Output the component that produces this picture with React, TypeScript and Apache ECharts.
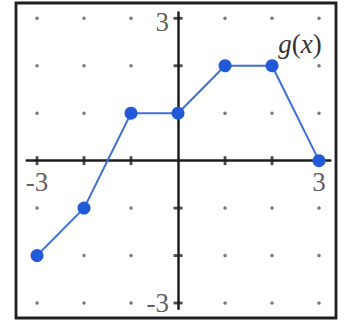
import React, { useEffect, useRef } from "react";
import * as echarts from "echarts";

// g(x): piecewise-linear function through these points
const gxX = [-3, -2, -1, 0, 1, 2, 3];
const gxY = [-2, -1, 1, 1, 2, 2, 0];

// integer lattice shown as dots / axis ticks
const gridX = [-3, -2, -1, 0, 1, 2, 3];
const gridY = [-3, -2, -1, 0, 1, 2, 3];

// axis end labels
const xLabels = [-3, 3];
const yLabels = [3, -3];

const SERIF = "Liberation Serif";
const BLUE_LINE = "#3d6fd6";
const BLUE_DOT = "#2259d6";
const INK = "#1e1e1e";

export default function App() {
  const ref = useRef<HTMLDivElement>(null);

  useEffect(() => {
    if (!ref.current) return;
    const chart = echarts.init(ref.current, undefined, { renderer: "svg" });

    const dots: number[][] = [];
    gridX.forEach((x) =>
      gridY.forEach((y) => {
        if (x !== 0 && y !== 0) dots.push([x, y]);
      })
    );
    const xTicks = gridX.filter((x) => x !== 0).map((x) => [x, 0]);
    const yTicks = gridY.filter((y) => y !== 0).map((y) => [0, y]);

    chart.setOption({
      animation: false,
      grid: { left: 26.7, right: 15.7, top: 12.6, bottom: 13.3 },
      xAxis: {
        type: "value",
        min: -3.22,
        max: 3.24,
        axisLine: { show: true, onZero: true, lineStyle: { color: INK, width: 2.5 } },
        axisTick: { show: false },
        axisLabel: { show: false },
        splitLine: { show: false },
      },
      yAxis: {
        type: "value",
        min: -3.12,
        max: 3.12,
        axisLine: { show: true, onZero: true, lineStyle: { color: INK, width: 2.5 } },
        axisTick: { show: false },
        axisLabel: { show: false },
        splitLine: { show: false },
      },
      graphic: [
        {
          type: "rect",
          shape: { x: 16, y: 3, width: 320, height: 315 },
          style: { fill: "none", stroke: INK, lineWidth: 2.8 },
          z: 10,
        },
        {
          type: "text",
          x: 300,
          y: 44,
          style: {
            text: "{i|g}{n|(}{i|x}{n|)}",
            align: "center",
            verticalAlign: "middle",
            fontFamily: SERIF,
            fontSize: 27,
            fill: "#333",
            rich: {
              i: { fontStyle: "italic", fontFamily: SERIF, fontSize: 27, fill: "#333" },
              n: { fontStyle: "normal", fontFamily: SERIF, fontSize: 27, fill: "#333" },
            },
          },
          z: 10,
        },
      ],
      series: [
        {
          type: "scatter",
          data: dots,
          symbol: "circle",
          symbolSize: 3.5,
          itemStyle: { color: "#5a5a5a" },
          silent: true,
        },
        {
          type: "scatter",
          data: xTicks,
          symbol: "rect",
          symbolSize: [2.8, 9],
          itemStyle: { color: INK },
          silent: true,
        },
        {
          type: "scatter",
          data: yTicks,
          symbol: "rect",
          symbolSize: [9, 2.8],
          itemStyle: { color: INK },
          silent: true,
        },
        {
          type: "scatter",
          data: xLabels.map((x) => [x, 0]),
          symbolSize: 0,
          label: {
            show: true,
            position: "bottom",
            distance: 8,
            formatter: (p: any) => String(p.value[0]),
            fontFamily: SERIF,
            fontSize: 27,
            color: "#333",
          },
          silent: true,
        },
        {
          type: "scatter",
          data: yLabels.map((y) => ({
            value: [0, y],
            label: { offset: y > 0 ? [0, 4] : [0, 0] },
          })),
          symbolSize: 0,
          label: {
            show: true,
            position: "left",
            distance: 9,
            formatter: (p: any) => String(p.value[1]),
            fontFamily: SERIF,
            fontSize: 27,
            color: "#333",
          },
          silent: true,
        },
        {
          type: "line",
          name: "g(x)",
          data: gxX.map((x, i) => [x, gxY[i]]),
          symbol: "circle",
          symbolSize: 13,
          showSymbol: true,
          lineStyle: { color: BLUE_LINE, width: 2 },
          itemStyle: { color: BLUE_DOT, borderWidth: 0 },
          z: 5,
        },
      ],
    });

    return () => chart.dispose();
  }, []);

  return (
    <div
      ref={ref}
      style={{ position: "fixed", left: 0, top: 0, width: 346, height: 322, background: "#fff" }}
    />
  );
}
